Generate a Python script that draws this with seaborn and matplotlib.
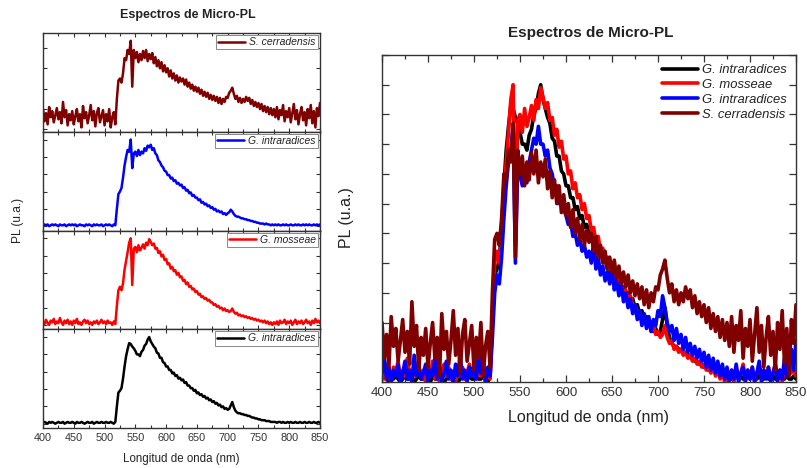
import numpy as np
import pandas as pd
import matplotlib
matplotlib.use("Agg")
import matplotlib.pyplot as plt
import seaborn as sns
from matplotlib.ticker import MultipleLocator

# ---------------- data (PL spectra, 2.5 nm sampling, 400-850 nm) ----------------
wavelength = np.arange(400, 850.1, 2.5)

g_intraradices_black = [
    0.01, 0.02, 0.01, 0.00, 0.02, 0.01, 0.02, 0.01, 0.00, 0.01,
    0.02, 0.01, 0.01, 0.02, 0.00, 0.01, 0.02, 0.01, 0.01, 0.02,
    0.01, 0.00, 0.02, 0.01, 0.01, 0.02, 0.01, 0.00, 0.01, 0.02,
    0.01, 0.01, 0.02, 0.00, 0.01, 0.02, 0.01, 0.01, 0.02, 0.01,
    0.01, 0.02, 0.01, 0.01, 0.02, 0.01, 0.00, 0.02, 0.20, 0.36,
    0.38, 0.41, 0.52, 0.66, 0.78, 0.86, 0.93, 0.92, 0.89, 0.87,
    0.84, 0.80, 0.80, 0.78, 0.83, 0.85, 0.90, 0.92, 0.97, 1.00,
    0.95, 0.92, 0.89, 0.87, 0.82, 0.81, 0.76, 0.76, 0.71, 0.70,
    0.66, 0.66, 0.62, 0.62, 0.58, 0.59, 0.55, 0.56, 0.52, 0.53,
    0.50, 0.51, 0.47, 0.48, 0.44, 0.44, 0.41, 0.41, 0.38, 0.39,
    0.35, 0.36, 0.33, 0.34, 0.31, 0.32, 0.29, 0.30, 0.27, 0.28,
    0.25, 0.26, 0.23, 0.24, 0.21, 0.22, 0.19, 0.20, 0.17, 0.18,
    0.16, 0.17, 0.21, 0.25, 0.19, 0.15, 0.13, 0.12, 0.12, 0.11,
    0.11, 0.10, 0.10, 0.09, 0.09, 0.08, 0.07, 0.07, 0.06, 0.06,
    0.05, 0.05, 0.04, 0.04, 0.04, 0.03, 0.03, 0.03, 0.02, 0.02,
    0.02, 0.02, 0.01, 0.02, 0.02, 0.01, 0.02, 0.01, 0.01, 0.02,
    0.01, 0.02, 0.01, 0.01, 0.02, 0.01, 0.01, 0.02, 0.01, 0.01,
    0.02, 0.01, 0.01, 0.02, 0.01, 0.01, 0.02, 0.01, 0.01, 0.02,
    0.01,
]

g_mosseae_red = [
    0.04, 0.01, 0.06, 0.02, 0.00, 0.05, 0.03, 0.07, 0.01, 0.04,
    0.02, 0.08, 0.03, 0.00, 0.05, 0.02, 0.06, 0.01, 0.04, 0.00,
    0.05, 0.02, 0.07, 0.01, 0.03, 0.00, 0.04, 0.06, 0.02, 0.05,
    0.01, 0.03, 0.00, 0.04, 0.02, 0.05, 0.01, 0.03, 0.06, 0.02,
    0.04, 0.01, 0.05, 0.02, 0.03, 0.00, 0.04, 0.01, 0.22, 0.40,
    0.44, 0.40, 0.48, 0.64, 0.74, 0.84, 0.95, 1.00, 0.46, 0.88,
    0.90, 0.84, 0.92, 0.86, 0.89, 0.93, 0.88, 0.95, 0.92, 0.99,
    0.96, 0.92, 0.94, 0.88, 0.89, 0.83, 0.85, 0.79, 0.81, 0.75,
    0.76, 0.70, 0.71, 0.65, 0.67, 0.62, 0.63, 0.58, 0.60, 0.55,
    0.56, 0.51, 0.52, 0.47, 0.49, 0.44, 0.45, 0.41, 0.42, 0.38,
    0.39, 0.35, 0.36, 0.32, 0.33, 0.30, 0.31, 0.28, 0.29, 0.26,
    0.26, 0.23, 0.24, 0.21, 0.22, 0.19, 0.20, 0.17, 0.19, 0.16,
    0.17, 0.15, 0.16, 0.19, 0.15, 0.13, 0.14, 0.11, 0.12, 0.10,
    0.11, 0.09, 0.10, 0.08, 0.09, 0.07, 0.08, 0.06, 0.07, 0.05,
    0.06, 0.04, 0.05, 0.03, 0.05, 0.02, 0.04, 0.01, 0.03, 0.00,
    0.03, 0.01, 0.04, 0.00, 0.05, 0.02, 0.03, 0.06, 0.01, 0.04,
    0.02, 0.05, 0.00, 0.03, 0.06, 0.01, 0.04, 0.02, 0.05, 0.01,
    0.03, 0.06, 0.02, 0.04, 0.00, 0.05, 0.02, 0.07, 0.03, 0.05,
    0.02,
]

g_intraradices_blue = [
    0.01, 0.02, 0.01, 0.02, 0.00, 0.01, 0.02, 0.01, 0.02, 0.01,
    0.00, 0.02, 0.01, 0.01, 0.02, 0.00, 0.01, 0.02, 0.01, 0.02,
    0.01, 0.02, 0.00, 0.01, 0.02, 0.01, 0.01, 0.00, 0.02, 0.01,
    0.02, 0.01, 0.00, 0.02, 0.01, 0.02, 0.01, 0.01, 0.02, 0.00,
    0.01, 0.02, 0.01, 0.02, 0.01, 0.00, 0.02, 0.01, 0.20, 0.37,
    0.40, 0.44, 0.56, 0.70, 0.80, 0.88, 0.86, 1.00, 0.67, 0.84,
    0.86, 0.81, 0.88, 0.82, 0.86, 0.84, 0.90, 0.87, 0.93, 0.91,
    0.94, 0.88, 0.90, 0.84, 0.82, 0.76, 0.74, 0.70, 0.68, 0.64,
    0.63, 0.59, 0.59, 0.55, 0.56, 0.52, 0.53, 0.49, 0.50, 0.47,
    0.48, 0.44, 0.45, 0.41, 0.42, 0.38, 0.39, 0.35, 0.36, 0.33,
    0.33, 0.30, 0.31, 0.27, 0.28, 0.25, 0.26, 0.23, 0.24, 0.21,
    0.22, 0.19, 0.20, 0.17, 0.18, 0.16, 0.17, 0.14, 0.15, 0.13,
    0.15, 0.16, 0.19, 0.17, 0.14, 0.12, 0.11, 0.11, 0.10, 0.09,
    0.09, 0.08, 0.08, 0.07, 0.07, 0.06, 0.06, 0.05, 0.05, 0.04,
    0.04, 0.03, 0.03, 0.03, 0.02, 0.03, 0.02, 0.02, 0.01, 0.02,
    0.01, 0.02, 0.01, 0.02, 0.01, 0.01, 0.02, 0.01, 0.02, 0.01,
    0.01, 0.02, 0.01, 0.01, 0.02, 0.01, 0.02, 0.01, 0.01, 0.02,
    0.01, 0.02, 0.01, 0.02, 0.01, 0.01, 0.02, 0.01, 0.02, 0.01,
    0.02,
]

g_intraradices_blue_overlay = [
    0.03, 0.08, 0.01, 0.05, 0.00, 0.04, 0.02, 0.06, 0.00, 0.03,
    0.07, 0.01, 0.04, 0.00, 0.09, 0.02, 0.05, 0.01, 0.03, 0.06,
    0.00, 0.04, 0.02, 0.08, 0.01, 0.05, 0.00, 0.03, 0.07, 0.01,
    0.04, 0.00, 0.06, 0.02, 0.09, 0.01, 0.04, 0.00, 0.05, 0.02,
    0.06, 0.01, 0.10, 0.03, 0.07, 0.00, 0.05, 0.02, 0.15, 0.30,
    0.36, 0.33, 0.42, 0.55, 0.66, 0.74, 0.78, 0.86, 0.40, 0.72,
    0.70, 0.66, 0.72, 0.67, 0.74, 0.78, 0.82, 0.80, 0.86, 0.80,
    0.80, 0.76, 0.78, 0.72, 0.70, 0.65, 0.66, 0.60, 0.62, 0.58,
    0.56, 0.53, 0.54, 0.49, 0.50, 0.46, 0.48, 0.44, 0.46, 0.42,
    0.44, 0.40, 0.47, 0.38, 0.42, 0.36, 0.39, 0.34, 0.37, 0.33,
    0.38, 0.31, 0.34, 0.29, 0.33, 0.27, 0.30, 0.25, 0.28, 0.23,
    0.26, 0.21, 0.24, 0.19, 0.23, 0.18, 0.22, 0.17, 0.21, 0.19,
    0.24, 0.22, 0.29, 0.25, 0.20, 0.17, 0.19, 0.14, 0.18, 0.13,
    0.16, 0.11, 0.15, 0.10, 0.13, 0.09, 0.12, 0.08, 0.11, 0.07,
    0.10, 0.05, 0.09, 0.04, 0.08, 0.03, 0.07, 0.02, 0.06, 0.01,
    0.05, 0.00, 0.04, 0.01, 0.06, 0.00, 0.03, 0.05, 0.00, 0.04,
    0.01, 0.05, 0.00, 0.03, 0.07, 0.00, 0.04, 0.01, 0.05, 0.00,
    0.03, 0.06, 0.00, 0.04, 0.01, 0.08, 0.02, 0.05, 0.11, 0.04,
    0.14,
]

s_cerradensis_brown = [
    0.20, 0.08, 0.16, 0.05, 0.22, 0.12, 0.18, 0.07, 0.14, 0.21,
    0.10, 0.17, 0.06, 0.27, 0.12, 0.19, 0.04, 0.15, 0.09, 0.18,
    0.05, 0.13, 0.20, 0.08, 0.15, 0.02, 0.23, 0.11, 0.17, 0.06,
    0.14, 0.24, 0.09, 0.18, 0.03, 0.16, 0.21, 0.07, 0.13, 0.19,
    0.04, 0.15, 0.08, 0.20, 0.02, 0.12, 0.17, 0.05, 0.30, 0.48,
    0.50, 0.46, 0.55, 0.70, 0.68, 0.78, 0.74, 0.87, 0.42, 0.78,
    0.70, 0.76, 0.66, 0.74, 0.68, 0.77, 0.70, 0.78, 0.67, 0.74,
    0.69, 0.75, 0.65, 0.71, 0.62, 0.68, 0.60, 0.66, 0.57, 0.63,
    0.56, 0.60, 0.52, 0.58, 0.50, 0.55, 0.48, 0.53, 0.46, 0.51,
    0.47, 0.50, 0.44, 0.49, 0.42, 0.46, 0.40, 0.44, 0.38, 0.42,
    0.37, 0.41, 0.35, 0.39, 0.33, 0.37, 0.32, 0.36, 0.30, 0.34,
    0.29, 0.33, 0.28, 0.32, 0.26, 0.31, 0.25, 0.30, 0.27, 0.32,
    0.31, 0.36, 0.38, 0.41, 0.35, 0.30, 0.33, 0.27, 0.31, 0.26,
    0.30, 0.27, 0.32, 0.28, 0.31, 0.25, 0.29, 0.23, 0.27, 0.22,
    0.26, 0.20, 0.25, 0.18, 0.23, 0.17, 0.22, 0.15, 0.21, 0.14,
    0.20, 0.12, 0.22, 0.10, 0.19, 0.14, 0.24, 0.08, 0.18, 0.12,
    0.21, 0.07, 0.16, 0.25, 0.10, 0.19, 0.05, 0.15, 0.22, 0.09,
    0.17, 0.04, 0.20, 0.11, 0.24, 0.06, 0.18, 0.02, 0.21, 0.13,
    0.26,
]

species_labels = ["G. intraradices", "G. mosseae", "G. intraradices", "S. cerradensis"]
title_text = "Espectros de Micro-PL"
x_label = "Longitud de onda (nm)"
y_label = "PL (u.a.)"
x_ticks = [400, 450, 500, 550, 600, 650, 700, 750, 800, 850]

c_black, c_red, c_blue, c_brown = "#000000", "#ff0000", "#0000ff", "#800000"

# ---------------- style ----------------
sns.set_style("ticks")
plt.rcParams["font.family"] = ["Liberation Sans", "DejaVu Sans"]
plt.rcParams.update({
    "xtick.direction": "in", "ytick.direction": "in",
    "xtick.top": True, "ytick.right": True,
    "axes.edgecolor": "#333333", "axes.linewidth": 1.0,
    "xtick.color": "#333333", "ytick.color": "#333333",
    "text.color": "#222222", "axes.labelcolor": "#222222",
})

fig = plt.figure(figsize=(8.07, 4.68), dpi=100)

# ---------------- left: stacked panels ----------------
gs = fig.add_gridspec(4, 1, left=43 / 807, right=320 / 807,
                      top=1 - 33 / 468, bottom=1 - 428 / 468, hspace=0)
left_series = [
    (s_cerradensis_brown, species_labels[3], c_brown),
    (g_intraradices_blue, species_labels[2], c_blue),
    (g_mosseae_red, species_labels[1], c_red),
    (g_intraradices_black, species_labels[0], c_black),
]
left_axes = []
for i, (vals, lab, col) in enumerate(left_series):
    ax = fig.add_subplot(gs[i])
    df = pd.DataFrame({"wl": wavelength, "pl": vals})
    sns.lineplot(data=df, x="wl", y="pl", color=col, lw=1.8, ax=ax,
                 estimator=None, sort=False, label=lab)
    v = np.asarray(vals)
    rng = v.max() - v.min()
    ax.set_ylim(v.min() - 0.05 * rng, v.max() + 0.09 * rng)
    ax.set_xlim(400, 850)
    ax.xaxis.set_major_locator(MultipleLocator(50))
    ax.xaxis.set_minor_locator(MultipleLocator(25))
    ax.yaxis.set_major_locator(MultipleLocator(0.2))
    ax.tick_params(which="both", labelleft=False, length=3, width=0.8, labelsize=7.8)
    ax.tick_params(which="minor", length=2)
    ax.set_ylabel("")
    ax.set_xlabel("")
    if i < 3:
        ax.tick_params(labelbottom=False)
    leg = ax.legend(loc="upper right", prop=dict(style="italic", size=7.5),
                    frameon=True, fancybox=False, edgecolor="#888888",
                    framealpha=1, borderaxespad=0.2, borderpad=0.2,
                    handlelength=2.6, handletextpad=0.4)
    leg.get_frame().set_linewidth(0.7)
    left_axes.append(ax)

left_axes[-1].set_xticks(x_ticks)
left_axes[-1].set_xlabel(x_label, fontsize=8.3, labelpad=7)
fig.text(18 / 807, 1 - 220 / 468, y_label, rotation=90, ha="center",
         va="center", fontsize=8.6)
fig.text(188 / 807, 1 - 15 / 468, title_text, ha="center", va="center",
         fontsize=9, fontweight="bold")

# ---------------- right: overlay ----------------
axr = fig.add_axes([382 / 807, 1 - 382 / 468, 414 / 807, 327 / 468])
right_series = [
    (g_intraradices_black, species_labels[0], c_black),
    (g_mosseae_red, species_labels[1], c_red),
    (g_intraradices_blue_overlay, species_labels[2], c_blue),
    (s_cerradensis_brown, species_labels[3], c_brown),
]
for vals, lab, col in right_series:
    df = pd.DataFrame({"wl": wavelength, "pl": vals})
    sns.lineplot(data=df, x="wl", y="pl", color=col, lw=2.6, ax=axr,
                 estimator=None, sort=False, label=lab)
axr.set_xlim(400, 850)
axr.set_ylim(0, 1.1)
axr.set_xticks(x_ticks)
axr.xaxis.set_minor_locator(MultipleLocator(25))
axr.yaxis.set_major_locator(MultipleLocator(0.1))
axr.tick_params(which="both", labelleft=False, length=5, width=0.9, labelsize=9.6)
axr.tick_params(which="minor", length=3)
axr.set_xlabel(x_label, fontsize=11.5, labelpad=8)
axr.set_ylabel("")
fig.text(347 / 807, 1 - 218 / 468, y_label, rotation=90, ha="center",
         va="center", fontsize=11.5)
fig.text(591 / 807, 1 - 33 / 468, title_text, ha="center", va="center",
         fontsize=11, fontweight="bold")
axr.legend(loc="upper right", prop=dict(style="italic", size=9.4),
           frameon=False, borderaxespad=0.3, labelspacing=0.2,
           handlelength=2.8, handletextpad=0.3)

fig.savefig("out.png", dpi=100)
